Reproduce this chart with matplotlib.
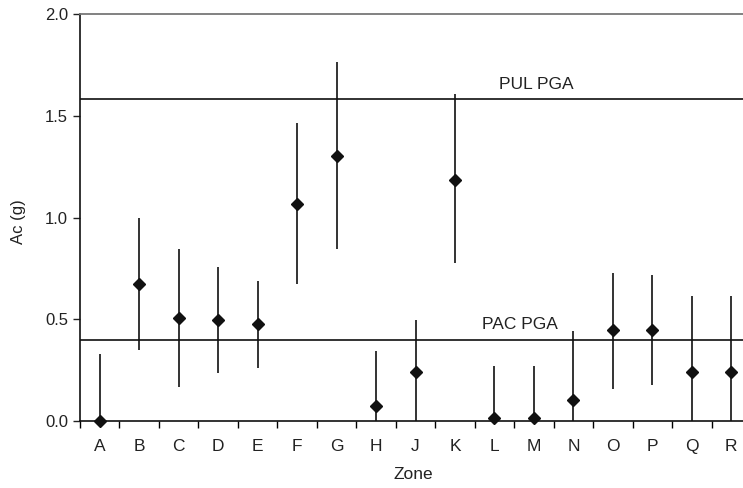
import numpy as np
import matplotlib.pyplot as plt
from matplotlib.ticker import FixedLocator

plt.rcParams['font.family'] = ['Liberation Sans', 'DejaVu Sans']

# data
zones = ['A', 'B', 'C', 'D', 'E', 'F', 'G', 'H', 'J', 'K', 'L', 'M', 'N', 'O', 'P', 'Q', 'R']
ac_mid = [0.0, 0.673, 0.508, 0.494, 0.475, 1.065, 1.304, 0.074, 0.239, 1.186,
          0.013, 0.013, 0.105, 0.445, 0.445, 0.239, 0.239]
ac_high = [0.33, 1.0, 0.847, 0.755, 0.688, 1.465, 1.762, 0.346, 0.496, 1.605,
           0.272, 0.272, 0.44, 0.726, 0.717, 0.614, 0.614]
ac_low = [0.0, 0.347, 0.166, 0.235, 0.26, 0.671, 0.845, 0.0, 0.0, 0.775,
          0.0, 0.0, 0.0, 0.157, 0.177, 0.0, 0.0]
pul_pga = 1.58
pac_pga = 0.40

fig = plt.figure(figsize=(7.43, 4.88), dpi=100)
ax = fig.add_axes([80 / 743, 67 / 488, 671 / 743, 407 / 488])

x = np.arange(len(zones))

# reference lines
ax.axhline(pul_pga, color='#222222', lw=1.3)
ax.axhline(pac_pga, color='#222222', lw=1.3)
ax.text(11.05, pul_pga + 0.035, 'PUL PGA', ha='center', va='bottom', fontsize=12.5, color='#222222')
ax.text(10.65, pac_pga + 0.035, 'PAC PGA', ha='center', va='bottom', fontsize=12.5, color='#222222')

# ranges and points
ax.vlines(x, ac_low, ac_high, color='#111111', lw=1.2)
ax.plot(x, ac_mid, 'D', color='#111111', ms=6, clip_on=False, zorder=5)

ax.set_xlim(-0.5, len(zones) - 0.5)
ax.set_ylim(0, 2.0)
ax.set_yticks([0, 0.5, 1.0, 1.5, 2.0])
ax.set_yticklabels(['0.0', '0.5', '1.0', '1.5', '2.0'])
ax.set_xticks(x)
ax.set_xticklabels(zones)
ax.xaxis.set_minor_locator(FixedLocator(np.arange(-0.5, len(zones), 1.0)))
ax.tick_params(axis='x', which='major', length=0, pad=13, labelsize=12.5, colors='#222222')
ax.tick_params(axis='x', which='minor', length=5, direction='out', width=1)
ax.tick_params(axis='y', length=5, direction='out', width=1, labelsize=12, colors='#222222')

for s in ['left', 'bottom']:
    ax.spines[s].set_color('#111111')
    ax.spines[s].set_linewidth(1.2)
ax.spines['top'].set_color('#777777')
ax.spines['top'].set_linewidth(1.3)
ax.spines['right'].set_visible(False)

ax.set_xlabel('Zone', fontsize=12.5, color='#222222')
ax.set_ylabel('Ac (g)', fontsize=12, color='#222222')
ax.xaxis.set_label_coords((413 - 80) / 671, -(467 - 421) / 407)
ax.yaxis.set_label_coords(-(80 - 26) / 671, (421 - 222) / 407)

fig.savefig('out.png', dpi=100)
